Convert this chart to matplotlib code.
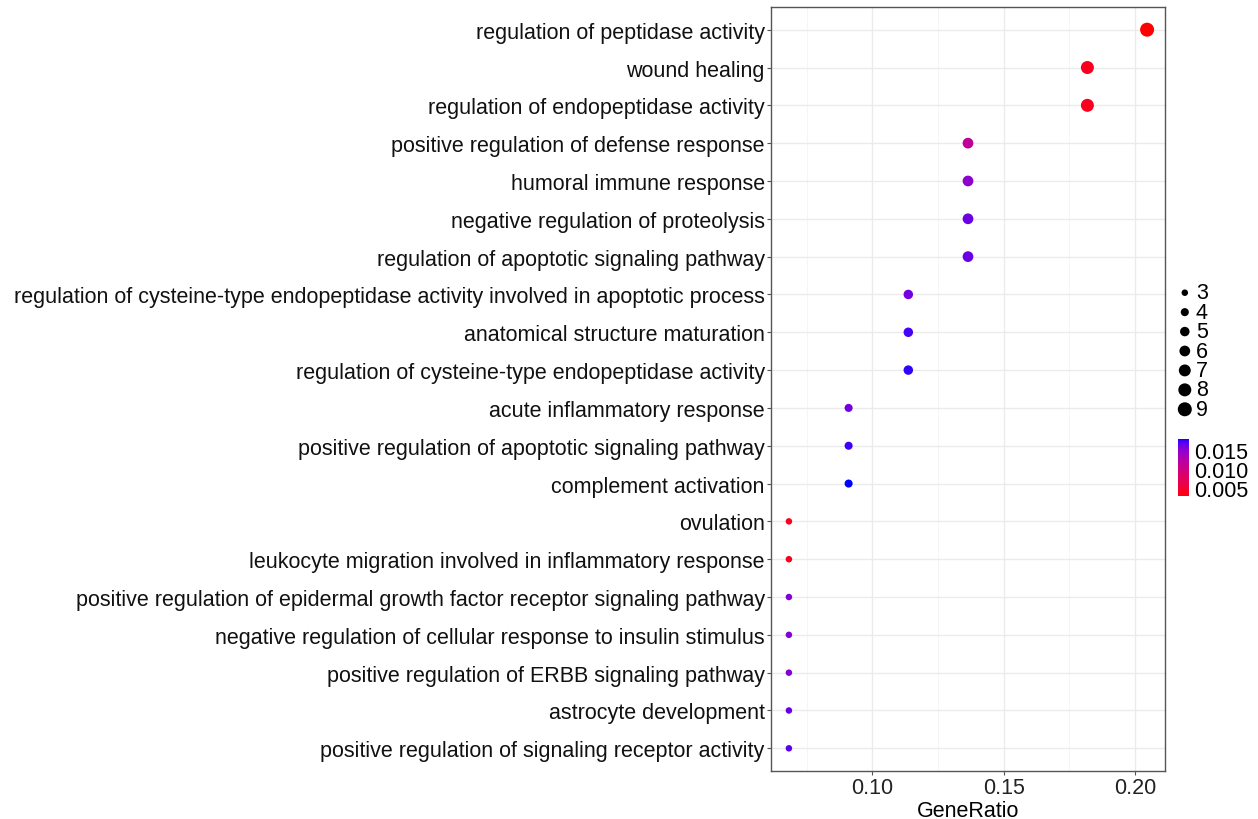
#---- dotplot GO enrichment (GeneRatio / p.adjust / Count)

import numpy as np
import matplotlib
matplotlib.use("Agg")
import matplotlib.pyplot as plt
from matplotlib.colors import ListedColormap, Normalize

plt.rcParams['font.family'] = ['Liberation Sans', 'DejaVu Sans']

#---- Data (top to bottom)
terms = [
    "regulation of peptidase activity",
    "wound healing",
    "regulation of endopeptidase activity",
    "positive regulation of defense response",
    "humoral immune response",
    "negative regulation of proteolysis",
    "regulation of apoptotic signaling pathway",
    "regulation of cysteine-type endopeptidase activity involved in apoptotic process",
    "anatomical structure maturation",
    "regulation of cysteine-type endopeptidase activity",
    "acute inflammatory response",
    "positive regulation of apoptotic signaling pathway",
    "complement activation",
    "ovulation",
    "leukocyte migration involved in inflammatory response",
    "positive regulation of epidermal growth factor receptor signaling pathway",
    "negative regulation of cellular response to insulin stimulus",
    "positive regulation of ERBB signaling pathway",
    "astrocyte development",
    "positive regulation of signaling receptor activity",
]
counts = [9, 8, 8, 6, 6, 6, 6, 5, 5, 5, 4, 4, 4, 3, 3, 3, 3, 3, 3, 3]
total_genes = 44
p_adjust = [0.0029, 0.0040, 0.0040, 0.0115, 0.0148, 0.0163, 0.0163,
            0.0160, 0.0172, 0.0175, 0.0160, 0.0174, 0.0179,
            0.0040, 0.0040, 0.0153, 0.0153, 0.0153, 0.0164, 0.0167]
size_breaks = [3, 4, 5, 6, 7, 8, 9]
color_ticks = [0.005, 0.010, 0.015]

gene_ratio = np.array(counts) / total_genes


#---- Gradient red -> blue interpolated in Lab (like ggplot)
def srgb_to_lab(rgb):
    c = np.asarray(rgb, float)
    lin = np.where(c > 0.04045, ((c + 0.055) / 1.055) ** 2.4, c / 12.92)
    M = np.array([[0.4124, 0.3576, 0.1805],
                  [0.2126, 0.7152, 0.0722],
                  [0.0193, 0.1192, 0.9505]])
    xyz = M @ lin / np.array([0.95047, 1.0, 1.08883])
    f = np.where(xyz > 0.008856, np.cbrt(xyz), 7.787 * xyz + 16 / 116)
    return np.array([116 * f[1] - 16, 500 * (f[0] - f[1]), 200 * (f[1] - f[2])])


def lab_to_srgb(lab):
    L, a, b = lab
    fy = (L + 16) / 116
    fx = fy + a / 500
    fz = fy - b / 200
    f = np.array([fx, fy, fz])
    xyz = np.where(f ** 3 > 0.008856, f ** 3, (f - 16 / 116) / 7.787)
    xyz = xyz * np.array([0.95047, 1.0, 1.08883])
    Minv = np.array([[3.2406, -1.5372, -0.4986],
                     [-0.9689, 1.8758, 0.0415],
                     [0.0557, -0.2040, 1.0570]])
    lin = np.clip(Minv @ xyz, 0, 1)
    c = np.where(lin > 0.0031308, 1.055 * lin ** (1 / 2.4) - 0.055, 12.92 * lin)
    return np.clip(c, 0, 1)


lab_lo = srgb_to_lab([1, 0, 0])
lab_hi = srgb_to_lab([0, 0, 1])
cmap = ListedColormap([lab_to_srgb(lab_lo + t * (lab_hi - lab_lo))
                       for t in np.linspace(0, 1, 256)])
norm = Normalize(vmin=min(p_adjust), vmax=max(p_adjust))


#---- Point size (area scale, like scale_size range 1..6)
def dot_diam_px(n):
    lo, hi = np.sqrt(min(size_breaks)), np.sqrt(max(size_breaks))
    s = 1 + 5 * (np.sqrt(np.asarray(n, float)) - lo) / (hi - lo)
    return 5.0 + 1.5 * s


def dot_area(n):
    d_pt = dot_diam_px(n) * 72 / 100
    return d_pt ** 2


#---- Figure
W, H = 1258, 820
FS = 15.5
fig = plt.figure(figsize=(W / 100, H / 100), dpi=100)
ax = fig.add_axes([771 / W, 1 - 772 / H, (1165 - 771) / W, (772 - 8) / H])

ypos = np.arange(len(terms))[::-1]
ax.scatter(gene_ratio, ypos, s=dot_area(counts), c=p_adjust, cmap=cmap,
           norm=norm, linewidths=0, zorder=3)

ax.set_yticks(ypos)
ax.set_yticklabels(terms, fontsize=FS, color='#111111')
ax.set_ylim(-0.6, len(terms) - 0.4)

span = gene_ratio.max() - gene_ratio.min()
ax.set_xlim(gene_ratio.min() - 0.05 * span, gene_ratio.max() + 0.05 * span)
ax.set_xticks([0.10, 0.15, 0.20])
ax.set_xticklabels(["0.10", "0.15", "0.20"], fontsize=FS, color='#222222')
ax.set_xticks([0.075, 0.125, 0.175], minor=True)
ax.set_xlabel("GeneRatio", fontsize=FS, labelpad=1)

ax.grid(True, which='major', color='#ebebeb', linewidth=1.0, zorder=0)
ax.grid(True, which='minor', axis='x', color='#f4f4f4', linewidth=0.6, zorder=0)
ax.set_axisbelow(True)
ax.tick_params(axis='both', which='major', length=3, width=0.8, color='#555555', pad=1.5)
ax.tick_params(axis='x', which='minor', length=0)
for sp in ax.spines.values():
    sp.set_color('#555555')
    sp.set_linewidth(1.0)

#---- Size legend
lax = fig.add_axes([1172 / W, 1 - 420 / H, 80 / W, (420 - 284) / H])
lax.set_xlim(0, 1)
lax.set_ylim(len(size_breaks) - 0.5, -0.5)
lax.axis('off')
ly = np.arange(len(size_breaks))
lax.scatter(np.full(len(ly), 0.16), ly, s=dot_area(size_breaks), c='black', linewidths=0)
for y, v in zip(ly, size_breaks):
    lax.text(0.30, y, str(v), fontsize=FS, va='center', ha='left')

#---- Colour bar
cax = fig.add_axes([1178 / W, 1 - 497 / H, 11 / W, 57 / H])
sm = plt.cm.ScalarMappable(cmap=cmap, norm=norm)
cb = fig.colorbar(sm, cax=cax, ticks=color_ticks)
cb.outline.set_visible(False)
cb.ax.tick_params(length=0, pad=4, labelsize=FS)
cb.ax.set_yticklabels([f"{t:.3f}" for t in color_ticks])

fig.savefig("out.png", dpi=100)
